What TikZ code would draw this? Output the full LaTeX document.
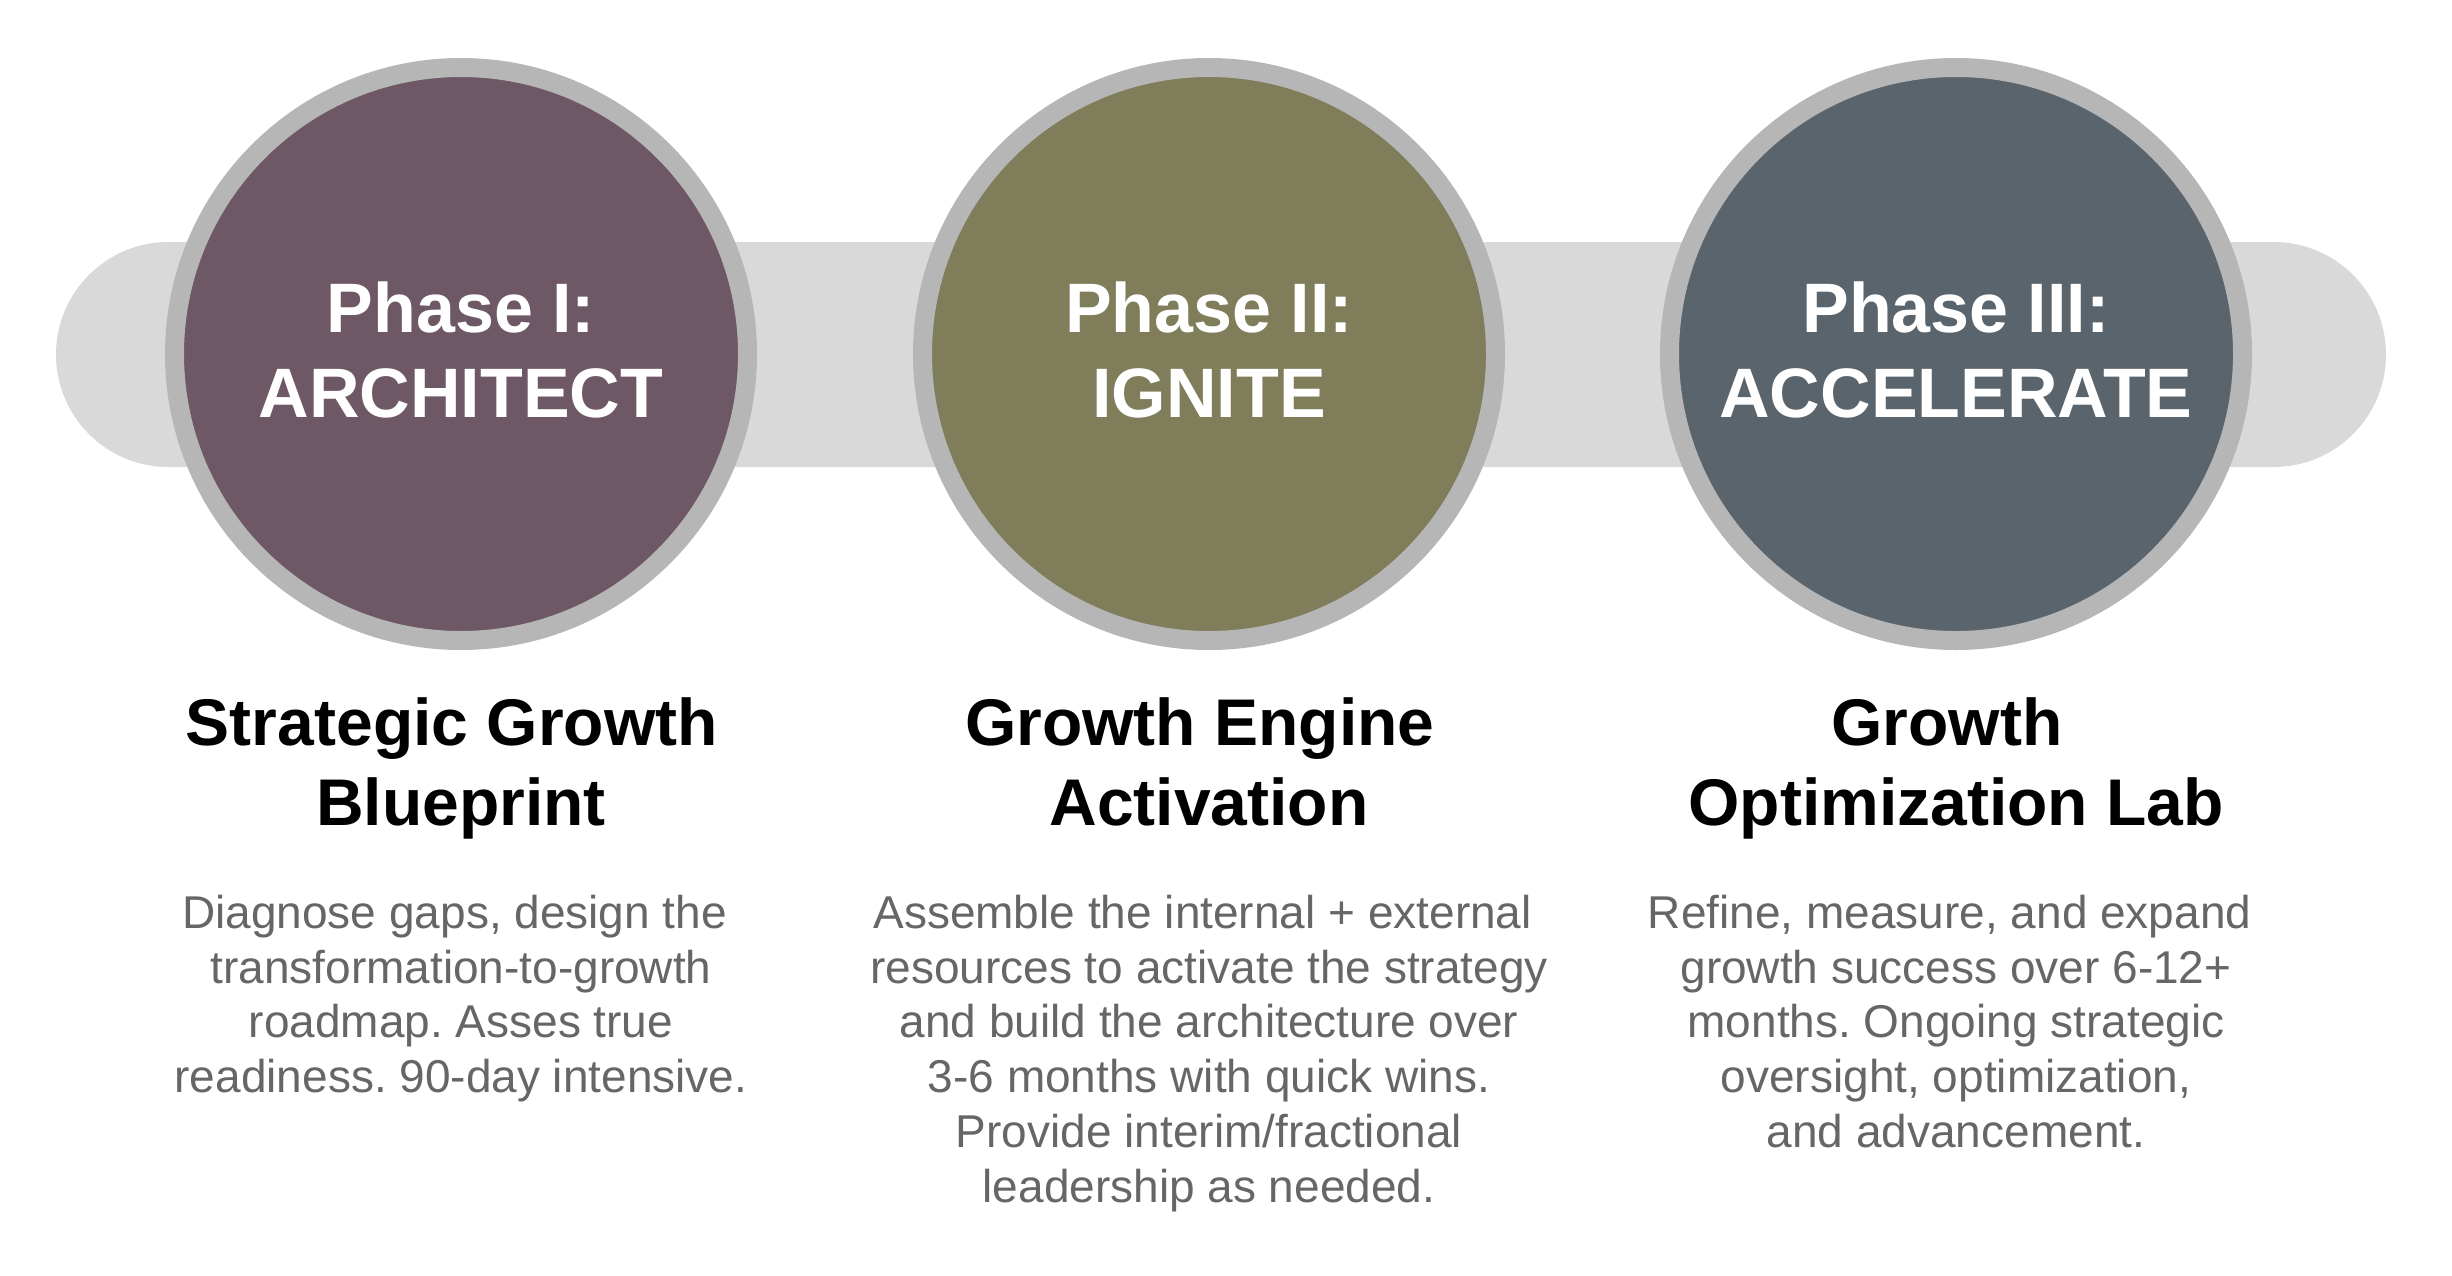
\documentclass[tikz,border=0pt]{standalone}
\usepackage{fontspec}
\setmainfont{Liberation Sans}
\definecolor{barc}{HTML}{D9D9D9}
\definecolor{ringc}{HTML}{B6B6B6}
\definecolor{pone}{HTML}{6E5865}
\definecolor{ptwo}{HTML}{807D5B}
\definecolor{pthree}{HTML}{5A646C}
\definecolor{bodyc}{HTML}{666666}
\newcommand\trsp{\hspace*{0.278em}}
\begin{document}
\frenchspacing
\begin{tikzpicture}[x=1pt,y=-1pt,
  phasecirc/.style={circle, draw=ringc, line width=19pt, minimum size=573pt, inner sep=0pt},
  phaselbl/.style={align=center, inner sep=0pt, text=white, font=\fontsize{70}{84.5}\selectfont\bfseries},
  headtxt/.style={anchor=north, align=center, inner sep=0pt, text=black, font=\fontsize{66}{80}\selectfont\bfseries},
  bodytxt/.style={anchor=north, align=center, inner sep=0pt, text=bodyc, font=\fontsize{46}{54.7}\selectfont}]
\useasboundingbox (0,0) rectangle (2452,1275);
\fill[white] (0,0) rectangle (2452,1275);
\fill[barc, rounded corners=112.5pt] (56,242) rectangle (2386,467);
\node[phasecirc, fill=pone] (c1) at (461,354) {};
\node[phasecirc, fill=ptwo] (c2) at (1209,354) {};
\node[phasecirc, fill=pthree] (c3) at (1956,354) {};
\node[phaselbl] (l1) at (461,350) {Phase I:\\ARCHITECT};
\node[phaselbl] (l2) at (1209,350) {Phase II:\\IGNITE};
\node[phaselbl] (l3) at (1956,350) {Phase III:\\ACCELERATE};
\node[headtxt] (h1) at (461,697) {Strategic Growth\trsp\\Blueprint};
\node[headtxt] (h2) at (1209,697) {Growth Engine\trsp\\Activation};
\node[headtxt] (h3) at (1956,697) {Growth\trsp\\Optimization Lab};
\node[bodytxt] (b1) at (461,895) {Diagnose gaps, design the\trsp\\transformation-to-growth\trsp\\roadmap. Asses true\trsp\\readiness. 90-day intensive.};
\node[bodytxt] (b2) at (1209,895) {Assemble the internal + external\trsp\\resources to activate the strategy\trsp\\and build the architecture over\trsp\\3-6 months with quick wins.\trsp\\Provide interim/fractional\trsp\\leadership as needed.};
\node[bodytxt] (b3) at (1956,895) {Refine, measure, and expand\trsp\\growth success over 6-12+\trsp\\months. Ongoing strategic\trsp\\oversight, optimization,\trsp\\and advancement.};
\end{tikzpicture}
\end{document}
